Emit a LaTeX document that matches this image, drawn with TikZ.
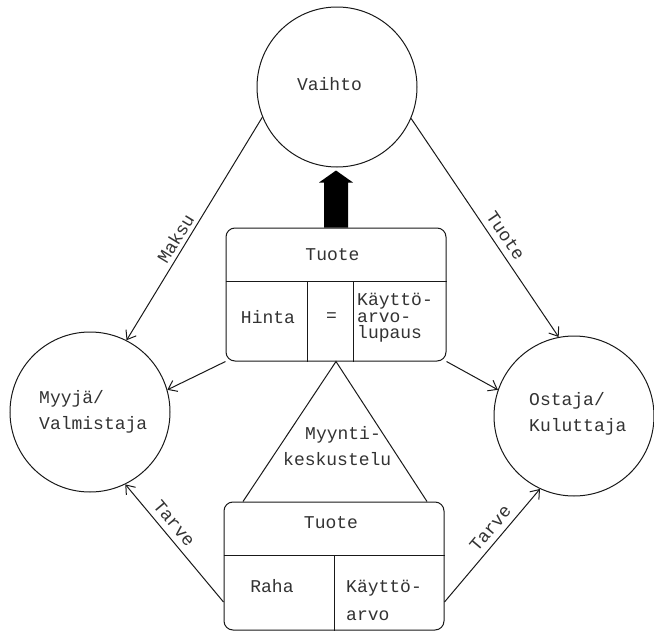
\documentclass[tikz,border=0pt]{standalone}
\usepackage{fontspec}
\setmainfont{Liberation Mono}
\usetikzlibrary{arrows.meta,calc}
\begin{document}
\begin{tikzpicture}[x=1pt,y=-1pt,
  line/.style={draw=black!90, line width=1pt},
  circ/.style={circle, draw=black!90, line width=1pt, minimum size=160pt, inner sep=0pt},
  box/.style={draw=black!90, line width=1pt, rounded corners=9pt, inner sep=0pt, minimum width=220pt},
  txt/.style={text=black!80, font=\fontsize{18}{26}\selectfont, inner sep=0pt},
  arr/.style={line, -{Straight Barb[length=8pt,width=12pt]}},
  lab/.style={txt, sloped, above, inner sep=4pt}]
\useasboundingbox (0,0) rectangle (654,632);
\fill[white] (0,0) rectangle (654,632);

% circles
\node[circ] (vaihto) at (337,87) {};
\node[circ] (myyja) at (90,412) {};
\node[circ] (ostaja) at (574,416) {};

% boxes
\node[box, minimum height=133pt] (topbox) at (336,294.5) {};
\node[box, minimum height=128pt] (botbox) at (334,566) {};

% dividers of top box
\coordinate (th) at (0,281);
\coordinate (tv1) at (307,0);
\coordinate (tv2) at (353,0);
\draw[line] (topbox.west |- th) -- (topbox.east |- th);
\draw[line] (tv1 |- th) -- (topbox.south -| tv1);
\draw[line] (tv2 |- th) -- (topbox.south -| tv2);

% dividers of bottom box
\coordinate (bh) at (0,555);
\draw[line] (botbox.west |- bh) -- (botbox.east |- bh);
\draw[line] (botbox.south |- bh) -- (botbox.south);

% triangle
\draw[line] ([xshift=-91pt]botbox.north) -- (topbox.south) -- ([xshift=93pt]botbox.north);

% black arrow
\fill[black] (topbox.north) ++(-12,0) -- ++(0,-45) -- ++(-5,0) -- ++(17,-12) -- ++(17,12) -- ++(-5,0) -- ++(0,45) -- cycle;

% texts
\node[txt] (tvaihto) at (329.5,84) {Vaihto};
\node[txt, anchor=west, align=left] (tmyyja) at (39,412) {Myyjä/\\Valmistaja};
\node[txt, anchor=west, align=left] (tostaja) at (529,414) {Ostaja/\\Kuluttaja};
\node[txt] (ttuote1) at (332.5,255) {Tuote};
\node[txt] (thinta) at (268,317) {Hinta};
\node[txt] (teq) at (331.5,317) {=};
\node[txt, anchor=west, align=left, font=\fontsize{18}{16.5}\selectfont] (tkl) at (357,318) {Käyttö-\\arvo-\\lupaus};
\node[txt, anchor=west, align=left] (tmk) at (283,446.5) {\hspace*{22pt}Myynti-\\keskustelu};
\node[txt] (ttuote2) at (331,523) {Tuote};
\node[txt] (traha) at (272,586) {Raha};
\node[txt, anchor=west, align=left, font=\fontsize{18}{28}\selectfont] (tka) at (346,600) {Käyttö-\\arvo};

% connectors
\draw[arr] (vaihto.202) -- (myyja.63) node[lab, pos=0.57] (lmaksu) {Maksu};
\draw[arr] (vaihto.337) -- (ostaja.101) node[lab, pos=0.57, inner sep=6pt] (ltuote) {Tuote};
\draw[arr] (topbox.south west) -- (myyja.16);
\draw[arr] (topbox.south east) -- (ostaja.161);
\draw[arr] ([yshift=-36pt]botbox.west) -- (myyja.-64) node[lab, pos=0.6, inner sep=6pt] (ltarve1) {Tarve};
\draw[arr] ([yshift=-36pt]botbox.east) -- (ostaja.245) node[lab, pos=0.58, inner sep=6pt] (ltarve2) {Tarve};
\end{tikzpicture}
\end{document}
